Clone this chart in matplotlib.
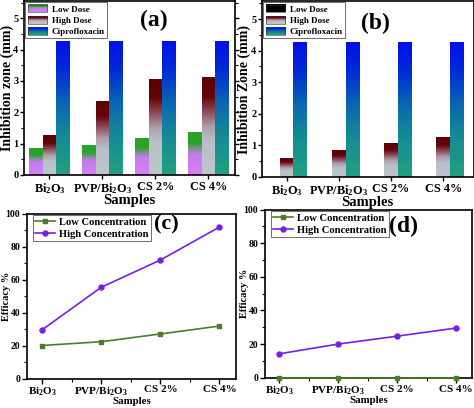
import numpy as np
import matplotlib
matplotlib.use("Agg")
import matplotlib.pyplot as plt
from matplotlib.colors import LinearSegmentedColormap, Normalize
from matplotlib.legend_handler import HandlerBase
from matplotlib.image import BboxImage
from matplotlib.transforms import Bbox, TransformedBbox
from matplotlib.patches import Rectangle
from matplotlib.ticker import MultipleLocator

plt.rcParams['font.family'] = 'Liberation Serif'
plt.rcParams['font.weight'] = 'bold'
plt.rcParams['axes.labelweight'] = 'bold'
plt.rcParams['mathtext.fontset'] = 'custom'
plt.rcParams['mathtext.rm'] = 'Liberation Serif:bold'
plt.rcParams['mathtext.it'] = 'Liberation Serif:bold'
plt.rcParams['mathtext.bf'] = 'Liberation Serif:bold'

# data
samples = [r'Bi$_2$O$_3$', r'PVP/Bi$_2$O$_3$', 'CS 2%', 'CS 4%']

zone_a_low = [0.85, 0.95, 1.15, 1.35]
zone_a_high = [1.25, 2.35, 3.05, 3.10]
zone_a_cipro = [4.25, 4.25, 4.25, 4.25]

zone_b_low = [0.0, 0.0, 0.0, 0.0]
zone_b_high = [0.60, 0.85, 1.05, 1.25]
zone_b_cipro = [4.25, 4.25, 4.25, 4.25]

eff_c_low = [20.0, 22.3, 27.0, 31.8]
eff_c_high = [29.5, 55.3, 71.8, 91.8]

eff_d_low = [0.0, 0.0, 0.0, 0.0]
eff_d_high = [14.2, 20.0, 24.7, 29.5]

# gradient colormaps (bottom -> top)
low_cmap = LinearSegmentedColormap.from_list('low', [
    (0.0, '#d880f2'), (0.48, '#c27cf0'), (0.62, '#7f8f90'),
    (0.74, '#2aa52a'), (1.0, '#26a426')])
low_b_cmap = LinearSegmentedColormap.from_list('lowb', ['#000000', '#000000'])
high_cmap = LinearSegmentedColormap.from_list('high', [
    (0.0, '#bcc6cc'), (0.35, '#b8c0c8'), (0.5, '#ae9caa'),
    (0.66, '#884656'), (0.8, '#650508'), (1.0, '#5e0000')])
cipro_cmap = LinearSegmentedColormap.from_list('cipro', [
    (0.0, '#22a080'), (0.3, '#158a96'), (0.55, '#0a64b2'),
    (0.8, '#0028d8'), (1.0, '#0010e8')])

grad = np.linspace(0, 1, 128).reshape(-1, 1)


class GradHandler(HandlerBase):
    def __init__(self, cmap):
        super().__init__()
        self.cmap = cmap

    def create_artists(self, legend, orig_handle, xdescent, ydescent,
                       width, height, fontsize, trans):
        bb = Bbox.from_bounds(-xdescent, -ydescent, width, height)
        im = BboxImage(TransformedBbox(bb, trans), cmap=self.cmap,
                       norm=Normalize(0, 1), origin='lower',
                       interpolation='bilinear')
        im.set_data(grad)
        edge = Rectangle((-xdescent, -ydescent), width, height,
                         facecolor='none', edgecolor='#333333',
                         linewidth=0.4, transform=trans)
        return [im, edge]


def gradient_bars(ax, bars, cmap):
    for bar in bars:
        x0 = bar.get_x()
        w = bar.get_width()
        h = bar.get_height()
        if h <= 0:
            continue
        ax.imshow(grad, extent=[x0, x0 + w, 0, h], origin='lower',
                  cmap=cmap, aspect='auto', zorder=2,
                  interpolation='bilinear')


def bar_panel(ax, low, high, cipro, lowc, ylabel, xlim, ylim, ylab_x):
    x = np.arange(len(samples))
    w = 0.26
    b1 = ax.bar(x - w, low, w, color='none', edgecolor='none')
    b2 = ax.bar(x, high, w, color='none', edgecolor='none')
    b3 = ax.bar(x + w, cipro, w, color='none', edgecolor='none')
    gradient_bars(ax, b1, lowc)
    gradient_bars(ax, b2, high_cmap)
    gradient_bars(ax, b3, cipro_cmap)
    ax.set_xlim(*xlim)
    ax.set_ylim(*ylim)
    ax.set_xticks(x)
    ax.set_xticklabels(samples, fontsize=8.8)
    ax.yaxis.set_major_locator(MultipleLocator(1))
    ax.yaxis.set_minor_locator(MultipleLocator(0.5))
    ax.tick_params(axis='y', which='both', direction='out', right=True,
                   labelsize=7.5, pad=1)
    ax.tick_params(which='major', length=3, width=1)
    ax.tick_params(which='minor', length=2, width=0.8)
    ax.tick_params(axis='x', length=3, pad=1.5)
    ax.set_xlabel('Samples', fontsize=10.5, labelpad=-1.5)
    ax.set_ylabel(ylabel, fontsize=10)
    ax.yaxis.set_label_coords(ylab_x, 0.5)
    for s in ax.spines.values():
        s.set_linewidth(1.2)
    leg = ax.legend([b1, b2, b3], ['Low Dose', 'High Dose', 'Ciprofloxacin'],
                    handler_map={b1: GradHandler(lowc),
                                 b2: GradHandler(high_cmap),
                                 b3: GradHandler(cipro_cmap)},
                    loc='upper left', bbox_to_anchor=(0.0, 1.0),
                    fontsize=6.5, handlelength=2.2, handleheight=0.95,
                    labelspacing=0.25, handletextpad=0.5, borderpad=0.25,
                    borderaxespad=0.15, fancybox=False, framealpha=1,
                    edgecolor='#555555')
    leg.get_frame().set_linewidth(0.6)


def line_panel(ax, low, high, xlim, ylab_x):
    x = np.arange(len(samples))
    ax.plot(x, low, color='#4b7d2b', marker='s', markersize=3.3,
            linewidth=1.2, label='Low Concentration', clip_on=False,
            zorder=3)
    ax.plot(x, high, color='#7a1fe6', marker='o', markersize=3.6,
            linewidth=1.2, label='High Concentration', clip_on=False,
            zorder=3)
    ax.set_xlim(*xlim)
    ax.set_ylim(0, 100)
    ax.set_xticks(x)
    ax.set_xticklabels(samples, fontsize=8)
    ax.set_xticks([0.5, 1.5, 2.5], minor=True)
    ax.yaxis.set_major_locator(MultipleLocator(20))
    ax.yaxis.set_minor_locator(MultipleLocator(10))
    ax.tick_params(which='both', direction='out')
    ax.tick_params(axis='y', labelsize=7)
    ax.tick_params(which='major', length=3.5, width=1, pad=1.5)
    ax.tick_params(which='minor', length=2, width=0.8)
    ax.set_xlabel('Samples', fontsize=7.8, labelpad=-1)
    ax.set_ylabel('Efficacy %', fontsize=7.5)
    ax.yaxis.set_label_coords(ylab_x, 0.5)
    for s in ax.spines.values():
        s.set_linewidth(1.2)
    leg = ax.legend(loc='upper left', bbox_to_anchor=(0.02, 1.0),
                    fontsize=7.6, handlelength=1.9, labelspacing=0.25,
                    handletextpad=0.4, borderpad=0.2, borderaxespad=0.15,
                    fancybox=False, framealpha=1, edgecolor='#555555')
    leg.get_frame().set_linewidth(0.6)


fig = plt.figure(figsize=(4.74, 4.08), dpi=100)

ax_a = fig.add_axes([0.0506, 0.5711, 0.4452, 0.4264])
ax_b = fig.add_axes([0.5527, 0.5662, 0.4463, 0.4313])
ax_c = fig.add_axes([0.0576, 0.0723, 0.4404, 0.4044])
ax_d = fig.add_axes([0.5597, 0.0743, 0.4361, 0.4122])

bar_panel(ax_a, zone_a_low, zone_a_high, zone_a_cipro, low_cmap,
          'Inhibition zone (mm)', (-0.48, 3.5), (0, 5.55), -0.047)
bar_panel(ax_b, zone_b_low, zone_b_high, zone_b_cipro, low_b_cmap,
          'Inhibition Zone (mm)', (-0.47, 3.58), (0, 5.57), -0.05)
line_panel(ax_c, eff_c_low, eff_c_high, (-0.25, 3.28), -0.078)
line_panel(ax_d, eff_d_low, eff_d_high, (-0.24, 3.27), -0.078)

fig.text(154 / 474, 1 - 20 / 408, '(a)', fontsize=17, ha='center', va='center')
fig.text(375 / 474, 1 - 23 / 408, '(b)', fontsize=17, ha='center', va='center')
fig.text(166 / 474, 1 - 224 / 408, '(c)', fontsize=16, ha='center', va='center')
fig.text(404 / 474, 1 - 226 / 408, '(d)', fontsize=17, ha='center', va='center')

fig.savefig('out.png', dpi=100)
